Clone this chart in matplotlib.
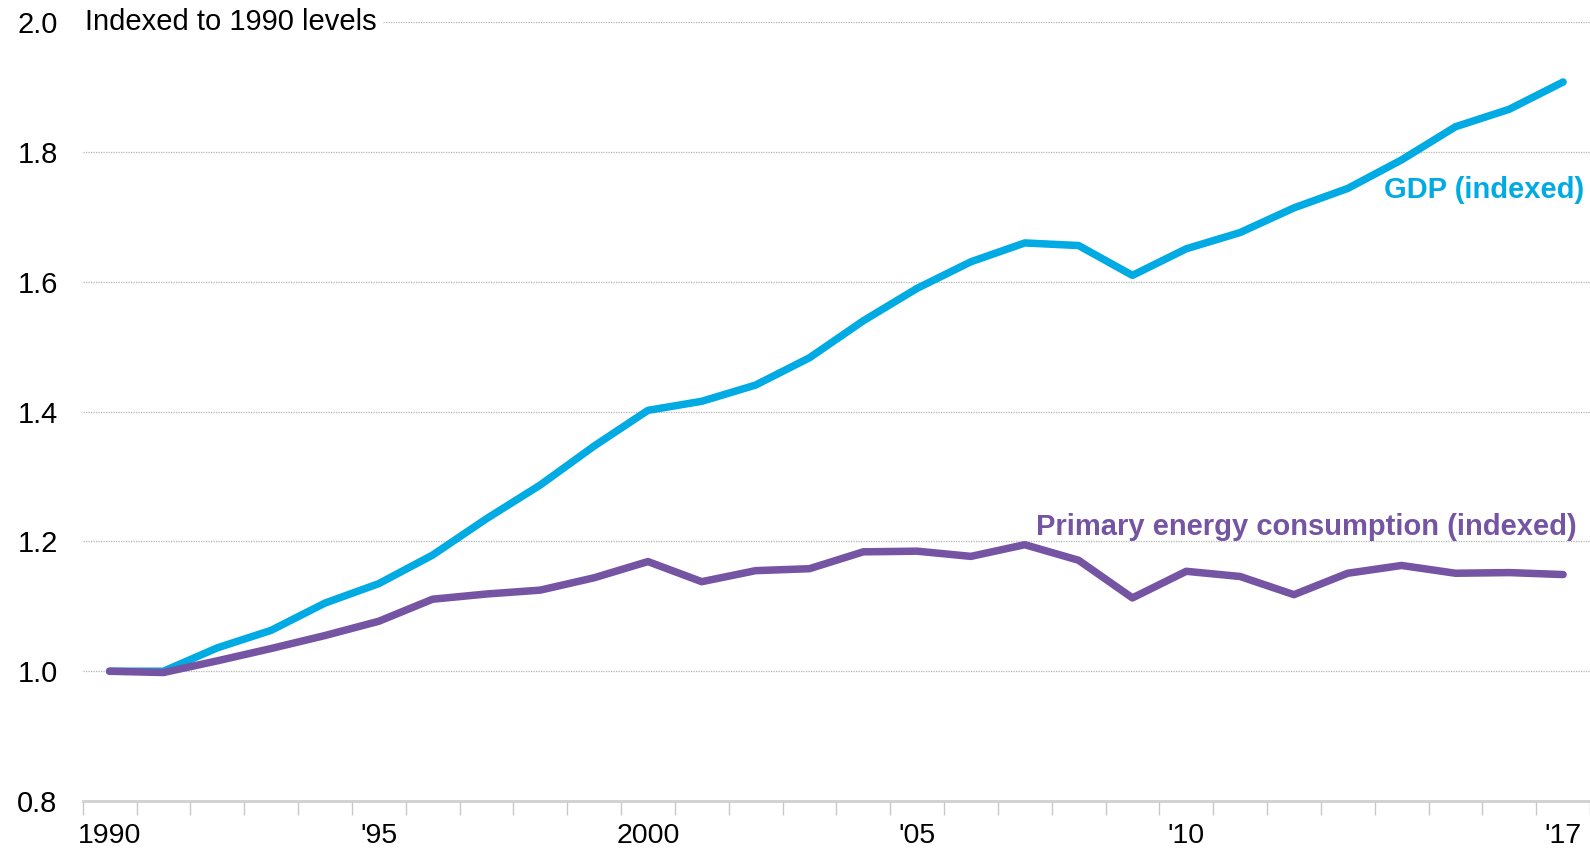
import matplotlib
matplotlib.use("Agg")
import matplotlib.pyplot as plt

plt.rcParams['font.family'] = ['Liberation Sans', 'DejaVu Sans']

# Values (indexed, 1990 = 1.0)
years = list(range(1990, 2018))
gdp = [1.00, 1.00, 1.036, 1.063, 1.105, 1.135, 1.179, 1.235, 1.287, 1.347,
       1.402, 1.416, 1.441, 1.483, 1.540, 1.590, 1.631, 1.660, 1.656, 1.610,
       1.651, 1.676, 1.714, 1.744, 1.788, 1.839, 1.866, 1.908]
energy = [1.00, 0.998, 1.016, 1.035, 1.055, 1.077, 1.111, 1.119, 1.125, 1.144,
          1.169, 1.138, 1.155, 1.158, 1.184, 1.185, 1.177, 1.195, 1.171, 1.113,
          1.154, 1.146, 1.118, 1.151, 1.163, 1.151, 1.152, 1.149]

tick_years = [1990, 1995, 2000, 2005, 2010, 2017]
tick_labels = ["1990", "'95", "2000", "'05", "'10", "'17"]
y_ticks = [0.8, 1.0, 1.2, 1.4, 1.6, 1.8, 2.0]

gdp_color = "#00abe4"
energy_color = "#7554a3"

fig = plt.figure(figsize=(15.9, 8.48), dpi=100)
ax = fig.add_axes([0.052, 0.0554, 0.948, 0.9183])

ax.plot(years, gdp, color=gdp_color, lw=5.4, solid_capstyle="round",
        solid_joinstyle="round", zorder=3)
ax.plot(years, energy, color=energy_color, lw=5.4, solid_capstyle="round",
        solid_joinstyle="round", zorder=3)

ax.set_xlim(1989.5, 2017.5)
ax.set_ylim(0.8, 2.0)

# y axis: dotted gridlines, no tick marks
ax.set_yticks(y_ticks)
ax.set_yticklabels([f"{v:.1f}" for v in y_ticks], fontsize=21)
ax.tick_params(axis="y", length=0, pad=18)
ax.yaxis.grid(True, linestyle=(0, (1, 1)), color="#b5b5b5", lw=0.9, zorder=0)

# x axis: boundary ticks between years, labels centred on years
ax.set_xticks([y - 0.5 for y in years] + [2017.5])
ax.set_xticklabels([])
ax.set_xticks(tick_years, minor=True)
ax.set_xticklabels(tick_labels, minor=True, fontsize=20.5)
ax.tick_params(axis="x", which="major", length=10, width=1, color="#c8c8c8")
ax.tick_params(axis="x", which="minor", length=0, pad=16)

for s in ["top", "right", "left"]:
    ax.spines[s].set_visible(False)
ax.spines["bottom"].set_color("#d0d0d0")
ax.spines["bottom"].set_linewidth(2)

ax.text(1989.55, 2.0, "Indexed to 1990 levels", fontsize=21, va="center",
        ha="left", bbox=dict(facecolor="white", edgecolor="none", pad=4), zorder=4)

ax.text(2017.4, 1.742, "GDP (indexed)", color=gdp_color, fontsize=21,
        fontweight="bold", ha="right", va="center")
ax.text(2017.25, 1.223, "Primary energy consumption (indexed)", color=energy_color,
        fontsize=21, fontweight="bold", ha="right", va="center")

fig.savefig("out.png", dpi=100)
